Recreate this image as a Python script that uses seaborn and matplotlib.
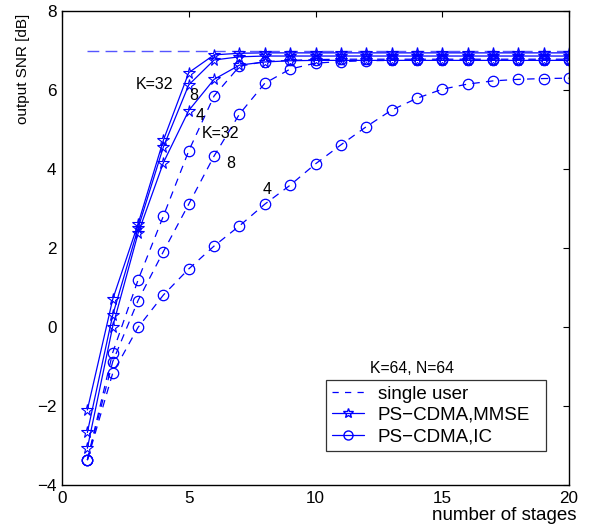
import matplotlib
matplotlib.use("Agg")
import matplotlib.pyplot as plt
from matplotlib.lines import Line2D
import numpy as np
import pandas as pd
import seaborn as sns

# data
stages = list(range(1, 21))
single_user = [7.0] * 20

mmse_k32 = [-2.10, 0.70, 2.61, 4.73, 6.44, 6.89, 6.93, 6.94, 6.94, 6.94,
            6.94, 6.94, 6.94, 6.94, 6.94, 6.94, 6.94, 6.94, 6.94, 6.94]
mmse_k8 = [-2.67, 0.30, 2.50, 4.56, 6.13, 6.76, 6.84, 6.86, 6.86, 6.86,
           6.86, 6.86, 6.86, 6.86, 6.86, 6.86, 6.86, 6.86, 6.86, 6.86]
mmse_k4 = [-3.07, 0.01, 2.37, 4.16, 5.48, 6.27, 6.63, 6.71, 6.74, 6.75,
           6.75, 6.75, 6.75, 6.75, 6.75, 6.75, 6.75, 6.75, 6.75, 6.75]

ic_k32 = [-3.37, -0.65, 1.19, 2.81, 4.46, 5.85, 6.60, 6.72, 6.75, 6.77,
          6.78, 6.78, 6.78, 6.78, 6.78, 6.78, 6.78, 6.78, 6.78, 6.78]
ic_k8 = [-3.37, -0.88, 0.67, 1.91, 3.11, 4.33, 5.39, 6.17, 6.53, 6.68,
         6.72, 6.74, 6.75, 6.75, 6.75, 6.75, 6.75, 6.75, 6.75, 6.75]
ic_k4 = [-3.37, -1.17, -0.01, 0.81, 1.47, 2.05, 2.56, 3.11, 3.59, 4.13,
         4.61, 5.07, 5.49, 5.79, 6.02, 6.15, 6.23, 6.27, 6.29, 6.30]

legend_labels = ["single user", "PS\u2212CDMA,MMSE", "PS\u2212CDMA,IC"]

sns.set_style("white")
plt.rcParams['font.family'] = ['Liberation Sans', 'DejaVu Sans']
plt.rcParams['text.color'] = 'black'
plt.rcParams['axes.labelcolor'] = 'black'

fig = plt.figure(figsize=(5.89, 5.29), dpi=100)
ax = fig.add_axes([62/589, 1-485/529, 507/589, 474/529])

blue = "#0000ff"
lw = 0.9

df = pd.DataFrame({"stage": stages, "single": single_user,
                   "m32": mmse_k32, "m8": mmse_k8, "m4": mmse_k4,
                   "i32": ic_k32, "i8": ic_k8, "i4": ic_k4})

sns.lineplot(data=df, x="stage", y="single", ax=ax, color="#5555ff", lw=1.0,
             legend=False)
ax.lines[-1].set_dashes((8.5, 4.5))
for col in ["i32", "i8", "i4"]:
    sns.lineplot(data=df, x="stage", y=col, ax=ax, color=blue, lw=lw,
                 marker="o", markersize=7.5, markerfacecolor="none",
                 markeredgecolor=blue, markeredgewidth=0.9, legend=False)
    ax.lines[-1].set_dashes((6, 5))
for col in ["m32", "m8", "m4"]:
    sns.lineplot(data=df, x="stage", y=col, ax=ax, color=blue, lw=lw,
                 marker="*", markersize=8.5, markerfacecolor="none",
                 markeredgecolor=blue, markeredgewidth=0.8, legend=False)

ax.set_xlim(0, 20)
ax.set_ylim(-4, 8)
ax.set_xticks([0, 5, 10, 15, 20])
ax.set_yticks([-4, -2, 0, 2, 4, 6, 8])
ax.set_yticklabels(["\u22124", "\u22122", "0", "2", "4", "6", "8"])
ax.tick_params(direction="in", top=True, right=True, length=4, width=0.8,
               labelsize=12.3, pad=4, colors="black")
for sp in ax.spines.values():
    sp.set_color("black")
    sp.set_linewidth(1.0)

ax.set_xlabel("number of stages", fontsize=13.5)
ax.xaxis.label.set_ha("right")
ax.xaxis.label.set_va("center")
ax.xaxis.set_label_coords((577-62)/507, -(515-485)/474)
ax.set_ylabel("output SNR [dB]", fontsize=11)
ax.yaxis.label.set_ha("right")
ax.yaxis.label.set_va("center")
ax.yaxis.set_label_coords((23-62)/507, 1 - 3/474)

fs = 11.5
ax.text(2.9, 6.13, "K=32", fontsize=fs, ha="left", va="center")
ax.text(5.18, 5.86, "8", fontsize=fs, ha="center", va="center")
ax.text(5.44, 5.35, "4", fontsize=fs, ha="center", va="center")
ax.text(5.51, 4.89, "K=32", fontsize=fs, ha="left", va="center")
ax.text(6.65, 4.14, "8", fontsize=fs, ha="center", va="center")
ax.text(8.1, 3.49, "4", fontsize=fs, ha="center", va="center")
ax.text(13.8, -1.06, "K=64, N=64", fontsize=11.3, ha="center", va="center")

handles = [
    Line2D([], [], color=blue, lw=lw, dashes=(5, 5)),
    Line2D([], [], color=blue, lw=lw, marker="*", markersize=7.5,
           markerfacecolor="none", markeredgecolor=blue),
    Line2D([], [], color=blue, lw=lw, marker="o", markersize=6.5,
           markerfacecolor="none", markeredgecolor=blue),
]
leg = ax.legend(handles, legend_labels, loc="upper left",
                bbox_to_anchor=((326-62)/507, (485-380)/474,
                                (546-326)/507, 0),
                mode="expand", fontsize=13.5, frameon=True, fancybox=False,
                borderpad=0.3, labelspacing=0.22, handlelength=1.75,
                handletextpad=0.7, borderaxespad=0)
leg.get_frame().set_edgecolor("black")
leg.get_frame().set_linewidth(0.9)
for t in leg.get_texts():
    t.set_color("black")

fig.savefig("out.png", dpi=100)
